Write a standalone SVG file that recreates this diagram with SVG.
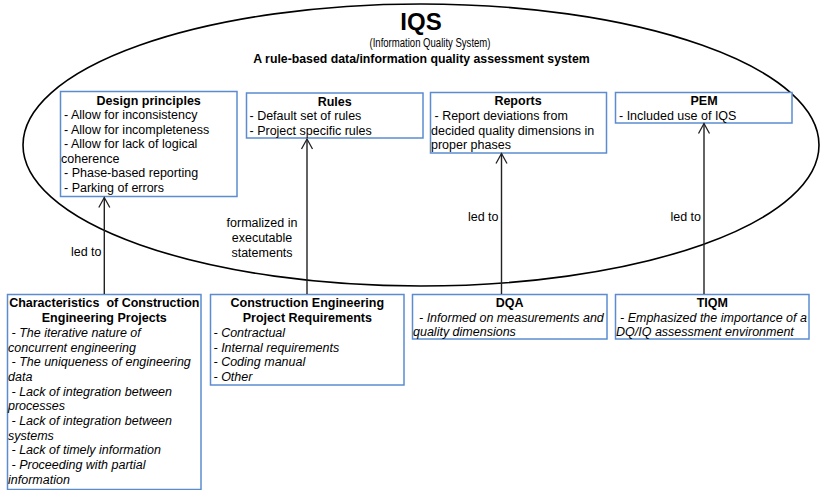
<svg xmlns="http://www.w3.org/2000/svg" width="820" height="490" viewBox="0 0 820 490">
<style>
text{font-family:"Liberation Sans",Arial,sans-serif;font-size:12.5px;fill:#000}
.b{font-weight:bold}
.i{font-style:italic}
.c{text-anchor:middle}
.e{text-anchor:end}
.box{fill:#fff;stroke:#5b8ccf;stroke-width:1.5}
.con{stroke:#222;stroke-width:1.4;fill:none;marker-end:url(#arr)}
</style>
<defs>
<marker id="arr" viewBox="-12 -7 14 14" refX="0" refY="0" markerWidth="14" markerHeight="14" markerUnits="userSpaceOnUse" orient="auto" overflow="visible">
<path d="M-10,-5.5 L0,0 L-10,5.5" fill="none" stroke="#222" stroke-width="1.3"/>
</marker>
</defs>
<rect width="820" height="490" fill="#fff"/>
<g id="iqs">
<ellipse cx="421" cy="145" rx="398" ry="141" fill="none" stroke="#000" stroke-width="1.6"/>
<text x="421" y="29.5" class="b c" style="font-size:24px">IQS</text>
<text x="369.5" y="46.5" style="font-size:12.5px" textLength="121" lengthAdjust="spacingAndGlyphs">(Information Quality System)</text>
<text x="421.5" y="63" class="b c" style="font-size:12.3px">A rule-based data/information quality assessment system</text>
</g>
<g id="design-principles">
<rect class="box" x="60.5" y="91.5" width="176.5" height="105"/>
<text x="148.7" y="104.5" class="b c">Design principles</text>
<text x="64" y="119">- Allow for inconsistency</text>
<text x="64" y="133.6">- Allow for incompleteness</text>
<text x="64" y="148.2">- Allow for lack of logical</text>
<text x="61" y="162.8">coherence</text>
<text x="64" y="177.4">- Phase-based reporting</text>
<text x="64" y="192">- Parking of errors</text>
</g>
<g id="rules">
<rect class="box" x="246.5" y="93" width="176.5" height="45"/>
<text x="334.7" y="105.5" class="b c">Rules</text>
<text x="249.5" y="120">- Default set of rules</text>
<text x="249.5" y="134.6">- Project specific rules</text>
</g>
<g id="reports">
<rect class="box" x="430.5" y="92.5" width="176" height="60.5"/>
<text x="518" y="105" class="b c">Reports</text>
<text x="434.5" y="120">- Report deviations from</text>
<text x="431" y="134.6">decided quality dimensions in</text>
<text x="431" y="149.2">proper phases</text>
</g>
<g id="pem">
<rect class="box" x="615.5" y="92.5" width="176.5" height="30.5"/>
<text x="704" y="105" class="b c">PEM</text>
<text x="619" y="120">- Included use of IQS</text>
</g>
<g id="characteristics">
<rect class="box" x="7.5" y="294.5" width="193.5" height="195"/>
<text x="104.3" y="307" class="b c" xml:space="preserve">Characteristics  of Construction</text>
<text x="104.3" y="321.6" class="b c">Engineering Projects</text>
<text x="11.5" y="337" class="i">- The iterative nature of</text>
<text x="8" y="351.7" class="i">concurrent engineering</text>
<text x="11.5" y="366.3" class="i">- The uniqueness of engineering</text>
<text x="8" y="381" class="i">data</text>
<text x="11.5" y="395.6" class="i">- Lack of integration between</text>
<text x="8" y="410.3" class="i">processes</text>
<text x="11.5" y="424.9" class="i">- Lack of integration between</text>
<text x="8" y="439.6" class="i">systems</text>
<text x="11.5" y="454.2" class="i">- Lack of timely information</text>
<text x="11.5" y="468.9" class="i">- Proceeding with partial</text>
<text x="8" y="483.5" class="i">information</text>
</g>
<g id="requirements">
<rect class="box" x="210.5" y="294.5" width="193.5" height="90.5"/>
<text x="307.3" y="307" class="b c">Construction Engineering</text>
<text x="307.3" y="321.6" class="b c">Project Requirements</text>
<text x="213.5" y="337" class="i">- Contractual</text>
<text x="213.5" y="351.7" class="i">- Internal requirements</text>
<text x="213.5" y="366.3" class="i">- Coding manual</text>
<text x="213.5" y="381" class="i">- Other</text>
</g>
<g id="dqa">
<rect class="box" x="412.5" y="294.5" width="194.5" height="44.5"/>
<text x="509.7" y="307" class="b c">DQA</text>
<text x="419" y="321.6" class="i">- Informed on measurements and</text>
<text x="413" y="336.3" class="i">quality dimensions</text>
</g>
<g id="tiqm">
<rect class="box" x="615.5" y="294.5" width="193.5" height="44.5"/>
<text x="712.3" y="307" class="b c">TIQM</text>
<text x="620" y="321.6" class="i">- Emphasized the importance of a</text>
<text x="616" y="336.3" class="i">DQ/IQ assessment environment</text>
</g>
<g id="connectors">
<path class="con" d="M104.3,294 L104.3,197.5"/>
<path class="con" d="M307,294 L307,139"/>
<path class="con" d="M501.5,294 L501.5,153.5"/>
<path class="con" d="M704,294 L704,123.5"/>
<text x="101.5" y="256" class="e">led to</text>
<text x="262" y="227" class="c">formalized in</text>
<text x="262" y="242" class="c">executable</text>
<text x="262" y="256.5" class="c">statements</text>
<text x="498.5" y="221" class="e">led to</text>
<text x="701" y="221" class="e">led to</text>
</g>
</svg>
